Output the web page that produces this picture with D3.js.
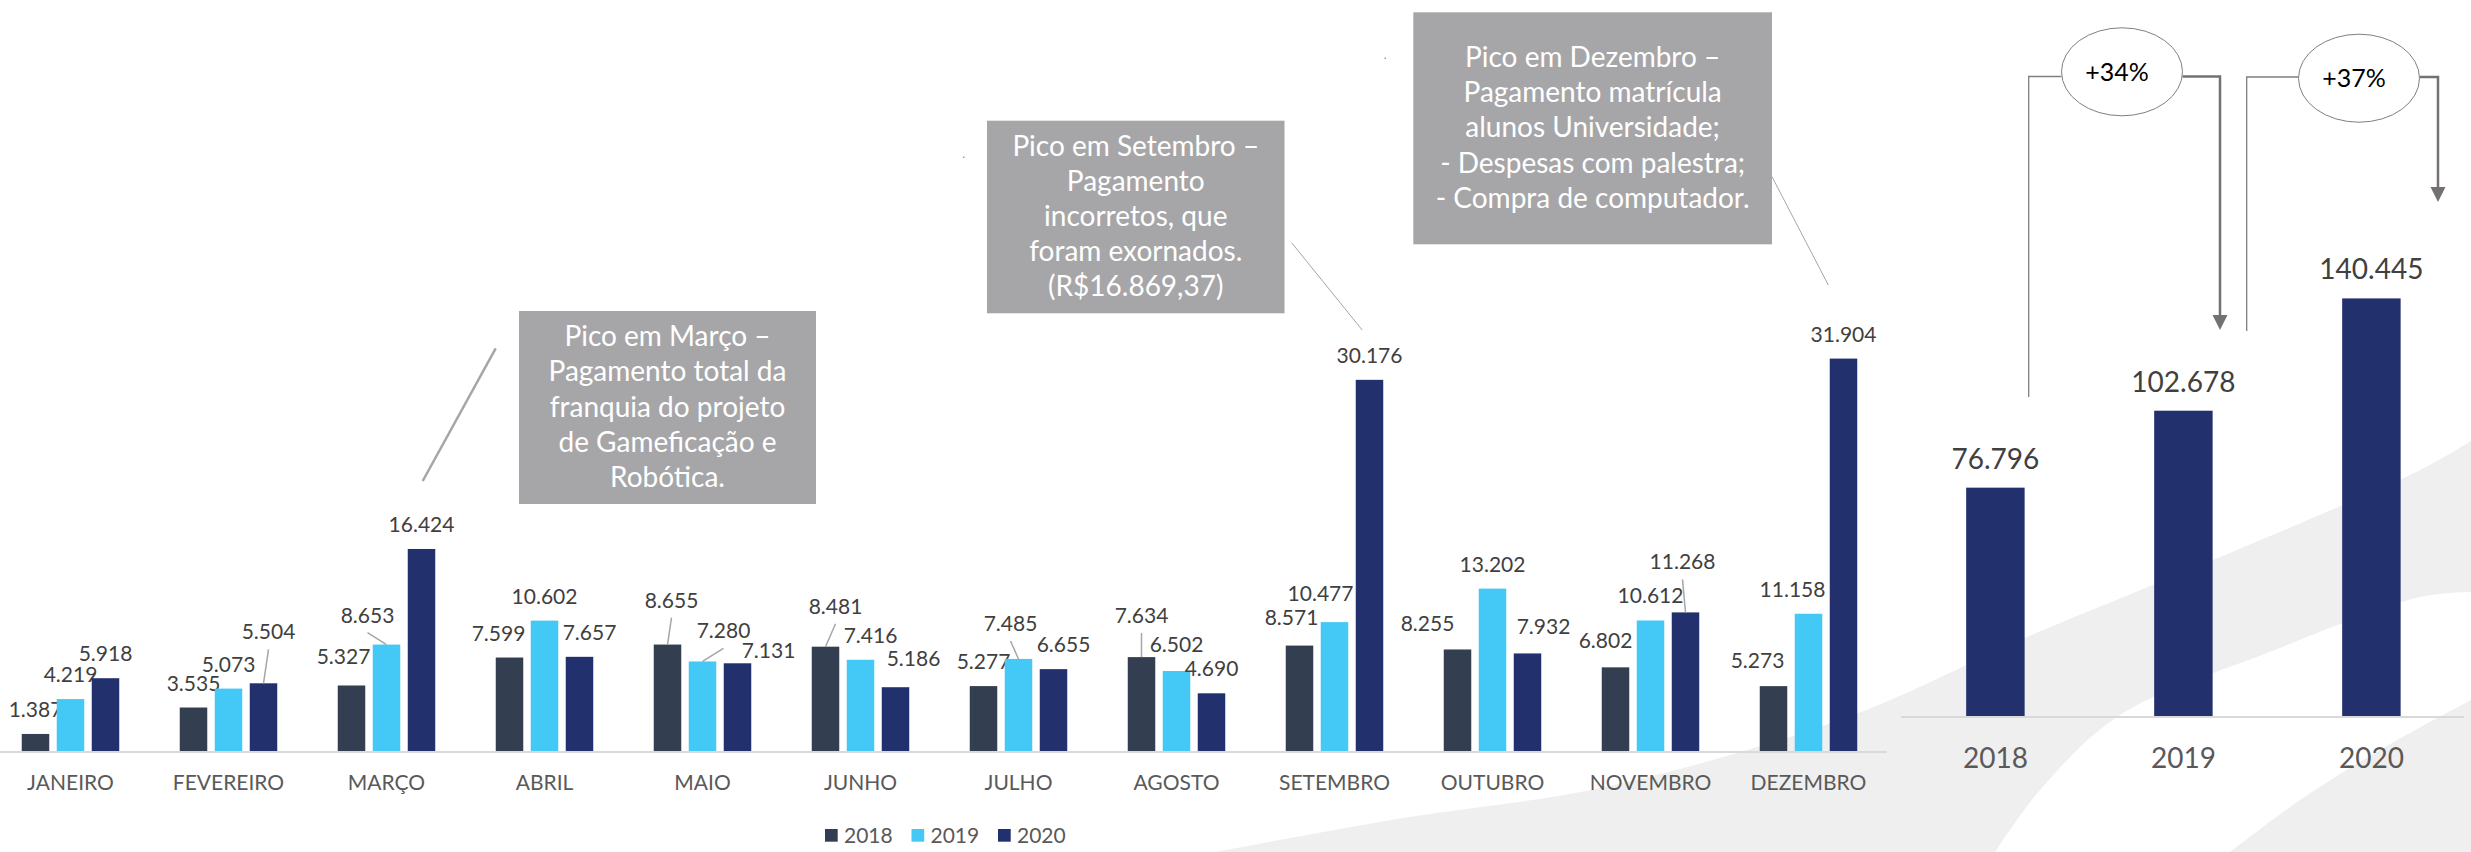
<!DOCTYPE html>
<html lang="pt-BR">
<head>
<meta charset="UTF-8">
<title>Despesas 2018 - 2020</title>
<script src="https://cdn.jsdelivr.net/npm/d3@7"></script>
<style>
    html, body { margin: 0; padding: 0; background: #fff; }
    svg { display: block; font-family: Lato, Calibri, sans-serif; }
</style>
</head>
<body>
<script>
// ---- data ----
const months = ['JANEIRO', 'FEVEREIRO', 'MARÇO', 'ABRIL', 'MAIO', 'JUNHO',
                'JULHO', 'AGOSTO', 'SETEMBRO', 'OUTUBRO', 'NOVEMBRO', 'DEZEMBRO'];
const years = ['2018', '2019', '2020'];
const values2018 = [1387, 3535, 5327, 7599, 8655, 8481, 5277, 7634, 8571, 8255, 6802, 5273];
const values2019 = [4219, 5073, 8653, 10602, 7280, 7416, 7485, 6502, 10477, 13202, 10612, 11158];
const values2020 = [5918, 5504, 16424, 7657, 7131, 5186, 6655, 4690, 30176, 7932, 11268, 31904];
const totals = [76796, 102678, 140445];
const growth = ['+34%', '+37%'];

const notaMarco = ['Pico em Março –', 'Pagamento total da', 'franquia do projeto', 'de Gameficação e', 'Robótica.'];
const notaSetembro = ['Pico em Setembro –', 'Pagamento', 'incorretos, que', 'foram exornados.', '(R$16.869,37)'];
const notaDezembro = ['Pico em Dezembro –', 'Pagamento matrícula', 'alunos Universidade;', '- Despesas com palestra;', '- Compra de computador.'];

const colors = ['#333f50', '#44c8f5', '#22306e'];

// label nudges [dx, dy, leader] (Excel labels dragged by hand)
const nudge2018 = [[0,0],[0,0],[-8,-4],[-11,0],[4,-20,1],[10,-16,1],[0,0],[0,-17,1],[-8,-4],[-30,-1],[-10,-2],[-16,-1]];
const nudge2019 = [[0,0],[0,0],[-19,-5,1],[0,0],[21,-6,1],[10,0],[-8,-11,1],[0,-2],[-14,-4],[0,0],[0,0],[-16,0]];
const nudge2020 = [[0,0],[5,-27,1],[0,0],[10,0],[31,12],[18,-4],[10,0],[0,0],[0,0],[16,-2],[-3,-26,1],[0,0]];

const series = [values2018, values2019, values2020];
const nudges = [nudge2018, nudge2019, nudge2020];
const fmt = v => d3.format(',')(v).replace(/,/g, '.');

const width = 2471, height = 852;

const svg = d3.select('body').append('svg')
    .attr('width', width)
    .attr('height', height);

// background swoosh
const swoosh = d3.line().curve(d3.curveCatmullRom);
const bandA = [[1215,852],[1403,818],[1605,787],[1848,717],[2027,637],[2213,560],[2420,470],[2471,441]];
const bandB = [[2471,592],[2420,597],[2267,653],[2120,715],[2040,790],[1995,852]];
svg.append('path')
    .attr('d', swoosh(bandA) + 'L' + swoosh(bandB).slice(1) + 'Z')
    .attr('fill', '#efefef');
const bandC = [[2230,852],[2300,800],[2380,750],[2471,700]];
svg.append('path')
    .attr('d', swoosh(bandC) + 'L2471,852Z')
    .attr('fill', '#efefef');

// ---- monthly chart ----
const base = 751;
const x0 = d3.scaleBand().domain(months).range([-8.5, 1887.5]);
const x1 = d3.scaleBand().domain(years).range([30.25, 127.75]).paddingInner(0.214);
const y = d3.scaleLinear().domain([0, 32000]).range([base, base - 393.6]);

const monthly = svg.append('g');

years.forEach((yr, s) => {
    const g = monthly.append('g');
    g.selectAll('rect')
        .data(series[s])
        .join('rect')
        .attr('x', (d, i) => x0(months[i]) + x1(yr))
        .attr('y', d => y(d))
        .attr('width', x1.bandwidth())
        .attr('height', d => base - y(d))
        .attr('fill', colors[s]);

    const cx = i => x0(months[i]) + x1(yr) + x1.bandwidth() / 2;

    g.selectAll('line')
        .data(series[s].map((d, i) => ({ d, i })).filter(o => nudges[s][o.i][2]))
        .join('line')
        .attr('x1', o => cx(o.i) + nudges[s][o.i][0])
        .attr('y1', o => y(o.d) - 17 + nudges[s][o.i][1] + 10)
        .attr('x2', o => cx(o.i))
        .attr('y2', o => y(o.d))
        .attr('stroke', '#a6a6a6')
        .attr('stroke-width', 1.5);

    g.selectAll('text')
        .data(series[s])
        .join('text')
        .attr('x', (d, i) => cx(i) + nudges[s][i][0])
        .attr('y', (d, i) => y(d) - 17 + nudges[s][i][1])
        .attr('text-anchor', 'middle')
        .attr('font-size', 21)
        .attr('fill', '#404040')
        .text(d => fmt(d));
});

monthly.append('line')
    .attr('x1', 0).attr('x2', 1887)
    .attr('y1', base + 1).attr('y2', base + 1)
    .attr('stroke', '#d9d9d9').attr('stroke-width', 2);

monthly.selectAll('.mes')
    .data(months)
    .join('text')
    .attr('class', 'mes')
    .attr('x', d => x0(d) + x0.bandwidth() / 2)
    .attr('y', 790)
    .attr('text-anchor', 'middle')
    .attr('font-size', 21)
    .attr('fill', '#595959')
    .text(d => d);

// legend
const legend = svg.append('g').attr('transform', 'translate(825,829)');
years.forEach((yr, s) => {
    const item = legend.append('g').attr('transform', `translate(${s * 86.5},0)`);
    item.append('rect').attr('width', 12.7).attr('height', 12.7).attr('fill', colors[s]);
    item.append('text').attr('x', 19).attr('y', 13.7)
        .attr('font-size', 21).attr('fill', '#595959').text(yr);
});

// callout boxes
function callout(lines, box, from, to, sw) {
    svg.append('line')
        .attr('x1', from[0]).attr('y1', from[1])
        .attr('x2', to[0]).attr('y2', to[1])
        .attr('stroke', '#a6a6a6').attr('stroke-width', sw);
    svg.append('rect')
        .attr('x', box[0]).attr('y', box[1])
        .attr('width', box[2]).attr('height', box[3])
        .attr('fill', '#a6a6a8');
    svg.append('text')
        .attr('text-anchor', 'middle')
        .attr('font-size', 28)
        .attr('fill', '#ffffff')
        .selectAll('tspan')
        .data(lines)
        .join('tspan')
        .attr('x', box[0] + box[2] / 2)
        .attr('y', (d, i) => box[1] + box[3] / 2 - 2 * 35.2 + 9 + i * 35.2)
        .text(d => d);
}
callout(notaMarco, [519, 311, 297, 193], [495.7, 348.3], [422.7, 481], 2.5);
callout(notaSetembro, [987, 120.7, 297.5, 192.6], [1291.6, 242.7], [1362.2, 330], 1);
callout(notaDezembro, [1413.3, 12.3, 358.7, 232], [1772, 176.7], [1828.3, 285], 1);

svg.append('rect').attr('x', 1384.5).attr('y', 57.5).attr('width', 1.5).attr('height', 1.5).attr('fill', '#999');
svg.append('rect').attr('x', 963).attr('y', 156.5).attr('width', 1.5).attr('height', 1.5).attr('fill', '#999');

// ---- yearly totals ----
const rBase = 716;
const xr = d3.scaleBand().domain(years).range([1901.4, 2465.4]).paddingInner(0.689).paddingOuter(0.3445);
const yr = d3.scaleLinear().domain([0, 150000]).range([rBase, rBase - 446]);

const yearly = svg.append('g');
yearly.selectAll('rect')
    .data(totals)
    .join('rect')
    .attr('x', (d, i) => xr(years[i]))
    .attr('y', d => yr(d))
    .attr('width', xr.bandwidth())
    .attr('height', d => rBase - yr(d))
    .attr('fill', colors[2]);

yearly.selectAll('.tot')
    .data(totals)
    .join('text')
    .attr('class', 'tot')
    .attr('x', (d, i) => xr(years[i]) + xr.bandwidth() / 2)
    .attr('y', d => yr(d) - 19)
    .attr('text-anchor', 'middle')
    .attr('font-size', 28)
    .attr('fill', '#404040')
    .text(d => fmt(d));

yearly.append('line')
    .attr('x1', 1901).attr('x2', 2464)
    .attr('y1', rBase + 1).attr('y2', rBase + 1)
    .attr('stroke', '#d9d9d9').attr('stroke-width', 2);

yearly.selectAll('.ano')
    .data(years)
    .join('text')
    .attr('class', 'ano')
    .attr('x', d => xr(d) + xr.bandwidth() / 2)
    .attr('y', 768)
    .attr('text-anchor', 'middle')
    .attr('font-size', 28)
    .attr('fill', '#595959')
    .text(d => d);

// growth connectors
const conn = [
    { left: 2028.7, bottom: 397, top: 76.5, cx: 2122, cy: 71.8, right: 2220, tip: 330 },
    { left: 2246.7, bottom: 331, top: 77, cx: 2359, cy: 78.2, right: 2438, tip: 202 }
];
conn.forEach((c, i) => {
    const rx = 60.5, ry = 44;
    yearly.append('path')
        .attr('d', `M${c.left},${c.bottom}V${c.top}H${c.cx - rx}`)
        .attr('fill', 'none').attr('stroke', '#7f7f7f').attr('stroke-width', 1.3);
    yearly.append('path')
        .attr('d', `M${c.cx + rx},${c.top}H${c.right}V${c.tip - 14}`)
        .attr('fill', 'none').attr('stroke', '#767171').attr('stroke-width', 2.5);
    yearly.append('path')
        .attr('d', `M${c.right - 7.5},${c.tip - 15}L${c.right + 7.5},${c.tip - 15}L${c.right},${c.tip}Z`)
        .attr('fill', '#767171');
    yearly.append('ellipse')
        .attr('cx', c.cx).attr('cy', c.cy).attr('rx', rx).attr('ry', ry)
        .attr('fill', '#fff').attr('stroke', '#7f7f7f').attr('stroke-width', 1);
    yearly.append('text')
        .attr('x', c.cx - 5).attr('y', c.cy + 9)
        .attr('text-anchor', 'middle')
        .attr('font-size', 25)
        .attr('fill', '#000')
        .text(growth[i]);
});
</script>
</body>
</html>
